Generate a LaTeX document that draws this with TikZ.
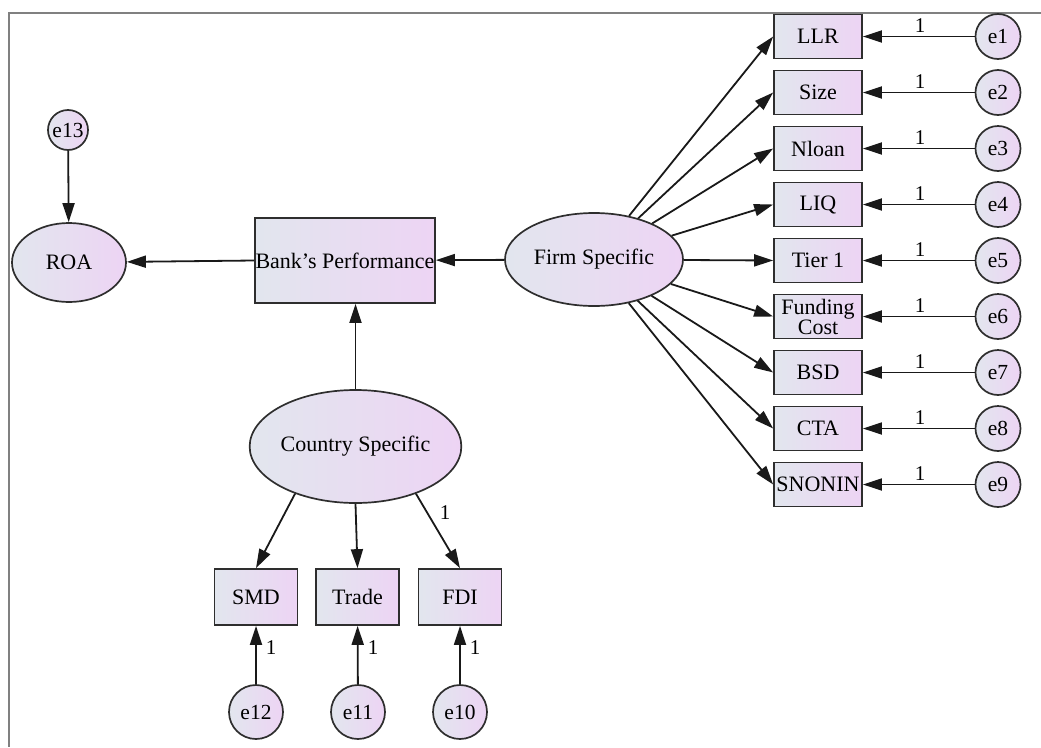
\documentclass[tikz,border=0pt]{standalone}
\usepackage{fontspec}
\setmainfont{Liberation Serif}
\usetikzlibrary{shapes.geometric,arrows.meta}
\definecolor{shL}{HTML}{E2E6EE}
\definecolor{shR}{HTML}{EDD4F4}
\definecolor{nodeline}{HTML}{2E2E2E}
\definecolor{framegray}{HTML}{808080}
\begin{document}
\begin{tikzpicture}[x=1pt,y=-1pt,
  every node/.style={font=\fontsize{22}{20}\selectfont, text=black},
  obs/.style={draw=nodeline, line width=1.7pt, left color=shL, right color=shR, inner sep=0pt, align=center},
  lat/.style={obs, ellipse},
  err/.style={obs, circle, font=\fontsize{21.5}{20}\selectfont},
  pth/.style={line width=1.8pt, draw=black!90, -{Triangle[length=19pt,width=12pt]}},
  one/.style={font=\fontsize{21}{20}\selectfont, inner sep=0pt},
  framestyle/.style={draw=framegray, line width=2pt}
]
\useasboundingbox (0,0) rectangle (1041,747);
\draw[framestyle] (1041,13) -- (9,13) -- (9,747);

% central nodes
\node[obs, minimum width=180pt, minimum height=85pt] (bank) at (345,260.5) {Bank’s Performance};
\node[lat, minimum width=178pt, minimum height=93pt] (firm) at (594,259.5) {Firm Specific};
\node[lat, minimum width=114pt, minimum height=79pt] (roa) at (69,262.5) {ROA};
\node[err, minimum size=40pt] (e13) at (68,130) {e13};
\node[lat, minimum width=169pt, minimum height=113pt] (cs) at (355.5,446.5) {Country Specific};

% right indicators
\foreach \n/\t [count=\i from 1] in {llr/LLR,size/Size,nloan/Nloan,liq/LIQ,tier/Tier 1,fund/{Funding\\Cost},bsd/BSD,cta/CTA,snon/SNONIN}{
  \pgfmathsetmacro\yy{-19.5+56*\i}
  \node[obs, minimum width=88pt, minimum height=44pt] (\n) at (818,\yy) {\t};
  \node[err, minimum size=45pt] (e\i) at (998,\yy) {e\i};
  \draw[pth] (e\i) -- (\n.east);
  \node[one] (one\i) at (920,\yy-11) {1};
  \draw[pth] (firm) -- (\n.west);
}

% bottom indicators
\node[obs, minimum width=83pt, minimum height=56pt] (smd) at (256,597) {SMD};
\node[obs, minimum width=83pt, minimum height=56pt] (trade) at (357.5,597) {Trade};
\node[obs, minimum width=83pt, minimum height=56pt] (fdi) at (460,597) {FDI};
\node[err, minimum size=54pt] (e12) at (256,712) {e12};
\node[err, minimum size=54pt] (e11) at (358,712) {e11};
\node[err, minimum size=54pt] (e10) at (460,712) {e10};

\draw[pth] (e12) -- (smd);
\draw[pth] (e11) -- (trade);
\draw[pth] (e10) -- (fdi);
\node[one] (o12) at (271,648) {1};
\node[one] (o11) at (373,648) {1};
\node[one] (o10) at (475,648) {1};

\draw[pth] (cs.218) -- (smd.north);
\draw[pth] (cs.south) -- (trade.north);
\draw[pth] (cs.322) -- (fdi.north);
\node[one] (ofdi) at (445,513) {1};

% structural paths
\draw[pth] (bank.west) -- (roa);
\draw[pth] (firm) -- (bank);
\draw[pth] (cs.north) -- (cs.north |- bank.south);
\draw[pth] (e13) -- (roa);
\end{tikzpicture}
\end{document}
